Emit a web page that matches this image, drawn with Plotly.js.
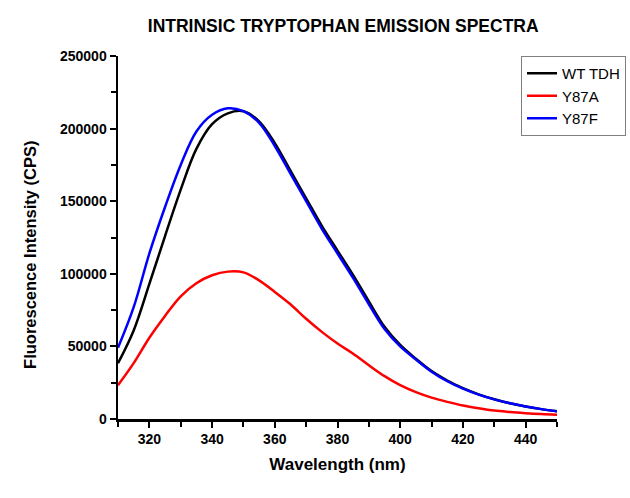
<!DOCTYPE html>
<html>
<head>
<meta charset="utf-8">
<script src="https://cdn.plot.ly/plotly-3.0.1.min.js"></script>
<style>html,body{margin:0;padding:0;background:#fff;}#chart{width:630px;height:498px;}</style>
</head>
<body>
<div id="chart"></div>
<script>
const wavelength = [310,315,320,325,330,335,340,345,350,355,360,365,370,375,380,385,390,395,400,405,410,415,420,425,430,435,440,445,450];
const wtTDH = [38400,61000,93000,126000,158000,186000,203000,210500,212000,205000,190000,171000,152000,133000,116000,99000,81000,63500,51000,41500,33000,26500,21200,17000,13600,10800,8600,6800,5300];
const y87A = [23300,38500,56000,71000,84500,93500,99000,101500,101000,95500,87500,79000,69000,60000,52000,45000,37000,29500,23300,18500,14700,11800,9300,7400,5800,4800,4000,3400,3000];
const y87F = [49000,77000,114000,146000,175000,198000,209500,214000,212000,204000,188000,169000,150000,131000,114000,97000,79000,62000,50000,41000,32600,26000,20900,16800,13500,10800,8600,6800,5300];
const seriesNames = ["WT TDH","Y87A","Y87F"];
const xTickVals = [320,340,360,380,400,420,440];
const yTickVals = [0,50000,100000,150000,200000,250000];

const font = "Liberation Sans, Arial, sans-serif";
const mk = (y, name, color) => ({
  x: wavelength, y: y, name: name, type: "scatter", mode: "lines",
  line: {color: color, width: 2.5, shape: "spline", smoothing: 1}
});
const data = [
  mk(wtTDH, seriesNames[0], "#000000"),
  mk(y87A, seriesNames[1], "#ff0000"),
  mk(y87F, seriesNames[2], "#0000ff")
];
const layout = {
  width: 630, height: 498,
  paper_bgcolor: "#ffffff", plot_bgcolor: "#ffffff",
  margin: {l: 118, r: 73, t: 56, b: 79, autoexpand: false},
  title: {text: "<b>INTRINSIC TRYPTOPHAN EMISSION SPECTRA</b>", font: {family: font, size: 17.5, color: "#000"}, x: 0.513, xref: "paper", xanchor: "center", y: 0.948, yanchor: "middle"},
  xaxis: {
    range: [310, 450], tickvals: xTickVals, ticktext: xTickVals.map(v => "<b>" + v + "</b>"),
    ticks: "outside", ticklen: 6, tickwidth: 2, tickcolor: "#000",
    minor: {dtick: 10, tick0: 310, ticks: "outside", ticklen: 5, tickwidth: 2, tickcolor: "#000"},
    showline: true, linecolor: "#000", linewidth: 2.5, showgrid: false, zeroline: false,
    tickfont: {family: font, size: 14, color: "#000"},
    title: {text: "<b>Wavelength (nm)</b>", font: {family: font, size: 17, color: "#000"}, standoff: 12}
  },
  yaxis: {
    range: [0, 250000], tickvals: yTickVals, ticktext: yTickVals.map(v => "<b>" + v + "</b>"),
    ticks: "outside", ticklen: 6, tickwidth: 2, tickcolor: "#000",
    minor: {dtick: 25000, tick0: 0, ticks: "outside", ticklen: 5, tickwidth: 2, tickcolor: "#000"},
    showline: true, linecolor: "#000", linewidth: 2.5, showgrid: false, zeroline: false,
    tickfont: {family: font, size: 14, color: "#000"}
  },
  annotations: [{
    text: "<b>Fluorescence Intensity (CPS)</b>", textangle: -90, showarrow: false,
    xref: "paper", yref: "paper", x: -0.2005, y: 0.452, xanchor: "center", yanchor: "middle",
    font: {family: font, size: 16.5, color: "#000"}
  }],
  showlegend: true,
  legend: {x: 0.918, xanchor: "left", y: 1.0, yanchor: "top", bgcolor: "#ffffff", bordercolor: "#808080", borderwidth: 1, font: {family: font, size: 15, color: "#000"}, tracegroupgap: 0}
};
Plotly.newPlot("chart", data, layout, {displayModeBar: false, staticPlot: true});
</script>
</body>
</html>
